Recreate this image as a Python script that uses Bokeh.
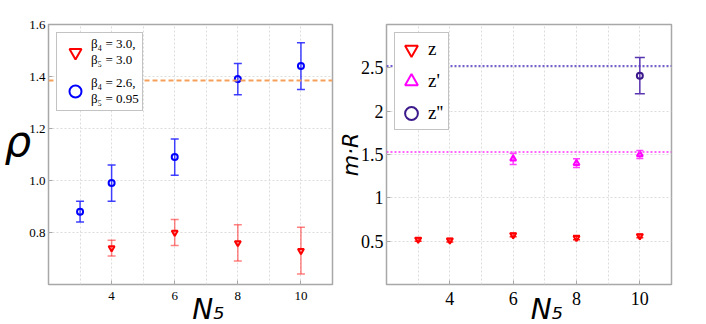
from bokeh.plotting import figure
from bokeh.models import (ColumnDataSource, Whisker, TeeHead, Span, Legend,
                          LegendItem, FixedTicker, Range1d)
from bokeh.layouts import row
from bokeh.embed import file_html
from bokeh.resources import INLINE

# ---------------- data: left panel (rho vs N5) ----------------
n_blue = [3, 4, 6, 8, 10]
rho_blue = [0.88, 0.99, 1.09, 1.39, 1.44]
err_blue = [0.04, 0.07, 0.07, 0.06, 0.09]
n_red = [4, 6, 8, 10]
rho_red = [0.74, 0.80, 0.76, 0.73]
err_red = [0.03, 0.05, 0.07, 0.09]
rho_ref = 1.385
label_red = "β₄ = 3.0,\nβ₅ = 3.0"
label_blue = "β₄ = 2.6,\nβ₅ = 0.95"

# ---------------- data: right panel (m·R vs N5) ----------------
n_z = [3, 4, 6, 8, 10]
m_z = [0.52, 0.51, 0.57, 0.54, 0.56]
err_z = [0.02, 0.02, 0.02, 0.025, 0.02]
n_zp = [6, 8, 10]
m_zp = [1.45, 1.40, 1.50]
err_zp = [0.065, 0.05, 0.045]
n_zpp = [10]
m_zpp = [2.41]
err_zpp = [0.21]
m_zp_ref = 1.53
m_zpp_ref = 2.52

x_ticks = [4, 6, 8, 10]
x_grid = [3, 4, 5, 6, 7, 8, 9, 10]
left_y_ticks = [0.8, 1.0, 1.2, 1.4, 1.6]
left_y_labels = ["0.8", "1.0", "1.2", "1.4", "1.6"]
right_y_ticks = [0.5, 1, 1.5, 2, 2.5]
right_y_labels = ["0.5", "1", "1.5", "2", "2.5"]

TICK_FONT = "Liberation Sans Narrow"
LABEL_FONT = "DejaVu Sans"
GRAY = "#a8a8a8"
NBSP = "\u00a0"


def base_fig(y0, y1, y_ticks, y_labels, xfs, yfs, b_left, b_right, frame_w):
    p = figure(frame_width=frame_w, frame_height=260,
               x_range=Range1d(2, 11), y_range=Range1d(y0, y1),
               output_backend="svg", toolbar_location=None,
               min_border_left=b_left, min_border_right=b_right,
               min_border_top=24, min_border_bottom=40)
    p.outline_line_color = GRAY
    p.outline_line_width = 1.5
    p.background_fill_color = "white"
    p.border_fill_color = "white"
    p.xaxis.ticker = FixedTicker(ticks=x_ticks)
    p.yaxis.ticker = FixedTicker(ticks=y_ticks)
    p.yaxis.major_label_overrides = {t: s for t, s in zip(y_ticks, y_labels)}
    p.xgrid.ticker = FixedTicker(ticks=x_grid)
    p.ygrid.ticker = FixedTicker(ticks=y_ticks)
    for g in (p.xgrid, p.ygrid):
        g.grid_line_color = "#dcdcdc"
        g.grid_line_dash = "2 2"
        g.grid_line_width = 1
    for ax in (p.xaxis, p.yaxis):
        ax.axis_line_color = None
        ax.major_tick_in = 4
        ax.major_tick_out = 0
        ax.major_tick_line_color = GRAY
        ax.minor_tick_line_color = None
        ax.major_label_text_font = TICK_FONT
        ax.major_label_text_color = "black"
        ax.axis_label_text_font = LABEL_FONT
        ax.axis_label_text_font_style = "italic"
        ax.axis_label_text_color = "black"
    p.xaxis.major_label_text_font_size = xfs
    p.yaxis.major_label_text_font_size = yfs
    p.xaxis.major_label_standoff = 7
    p.yaxis.major_label_standoff = 3
    return p


def errbars(p, xs, ys, es, color, alpha=1.0, head=8):
    src = ColumnDataSource(dict(x=xs, lo=[y - e for y, e in zip(ys, es)],
                                hi=[y + e for y, e in zip(ys, es)]))
    w = Whisker(source=src, base="x", lower="lo", upper="hi", dimension="height",
                line_color=color, line_width=1.5, line_alpha=alpha,
                lower_head=TeeHead(size=head, line_color=color, line_width=1.5, line_alpha=alpha),
                upper_head=TeeHead(size=head, line_color=color, line_width=1.5, line_alpha=alpha))
    p.add_layout(w)


# ---------------- left figure ----------------
p1 = base_fig(0.6, 1.6, left_y_ticks, left_y_labels, "13px", "13px", 48, 2, 284)
p1.add_layout(Span(location=rho_ref, dimension="width", line_color="#f5a05a",
                   line_dash="5 3", line_width=2))
errbars(p1, n_blue, rho_blue, err_blue, "#2a2aff", 0.9)
errbars(p1, n_red, rho_red, err_red, "#ff3030", 0.6)
r_red = p1.scatter(n_red, rho_red, marker="inverted_triangle", size=6,
                   line_color="red", line_width=2, fill_color="white", fill_alpha=0)
r_blue = p1.scatter(n_blue, rho_blue, marker="circle", size=6,
                    line_color="blue", line_width=2, fill_color="white", fill_alpha=0)
leg1 = Legend(items=[LegendItem(label=label_red, renderers=[r_red]),
                     LegendItem(label=label_blue, renderers=[r_blue])],
              location="top_left", margin=8, padding=3, spacing=7,
              glyph_width=30, glyph_height=30, label_standoff=1,
              label_text_font=TICK_FONT, label_text_font_size="13px",
              label_text_color="black", label_text_line_height=1.0,
              border_line_color="#888888", border_line_width=1.5,
              background_fill_color="white", background_fill_alpha=1)
p1.add_layout(leg1)
# second (blank) line lifts the symbol so its bowl sits where the reference has it
p1.yaxis.axis_label = "ρ\n" + NBSP
p1.yaxis.axis_label_orientation = "horizontal"
p1.yaxis.axis_label_text_font_size = "42px"
p1.yaxis.axis_label_text_line_height = 0.55
p1.yaxis.axis_label_standoff = -5
p1.xaxis.axis_label = NBSP * 4 + "N₅"
p1.xaxis.axis_label_text_font_size = "28px"
p1.xaxis.axis_label_standoff = -10

# ---------------- right figure ----------------
p2 = base_fig(0.0, 3.0, right_y_ticks, right_y_labels, "18px", "18px", 40, 20, 285)
p2.add_layout(Span(location=m_zpp_ref, dimension="width", line_color="#4b2bc0",
                   line_dash="2 2", line_width=1.5))
p2.add_layout(Span(location=m_zp_ref, dimension="width", line_color="#ff33ff",
                   line_dash="2 2", line_width=1.5))
errbars(p2, n_z, m_z, err_z, "#ff2020", 1.0, 7)
errbars(p2, n_zp, m_zp, err_zp, "#ff40ff", 1.0, 7)
errbars(p2, n_zpp, m_zpp, err_zpp, "#5a35b0", 1.0, 10)
r_z = p2.scatter(n_z, m_z, marker="inverted_triangle", size=6,
                 line_color="red", line_width=2, fill_color="white", fill_alpha=0)
r_zp = p2.scatter(n_zp, m_zp, marker="triangle", size=6,
                  line_color="magenta", line_width=2, fill_color="white", fill_alpha=0)
r_zpp = p2.scatter(n_zpp, m_zpp, marker="circle", size=6,
                   line_color="#3d1a8c", line_width=2, fill_color="white", fill_alpha=0)
leg2 = Legend(items=[LegendItem(label="z", renderers=[r_z]),
                     LegendItem(label="z'", renderers=[r_zp]),
                     LegendItem(label="z''", renderers=[r_zpp])],
              location="top_left", margin=8, padding=0, spacing=-7,
              glyph_width=32, glyph_height=32, label_standoff=1,
              label_text_font=TICK_FONT, label_text_font_size="19px",
              label_text_color="black",
              border_line_color="#888888", border_line_width=1.5,
              background_fill_color="white", background_fill_alpha=1)
p2.add_layout(leg2)
p2.yaxis.axis_label = "m·R"
p2.yaxis.axis_label_text_font_size = "22px"
p2.yaxis.axis_label_standoff = -5
p2.xaxis.axis_label = NBSP * 4 + "N₅"
p2.xaxis.axis_label_text_font_size = "28px"
p2.xaxis.axis_label_standoff = -15

layout = row(p1, p2, spacing=0)
open("out.html", "w").write(file_html(layout, INLINE))
